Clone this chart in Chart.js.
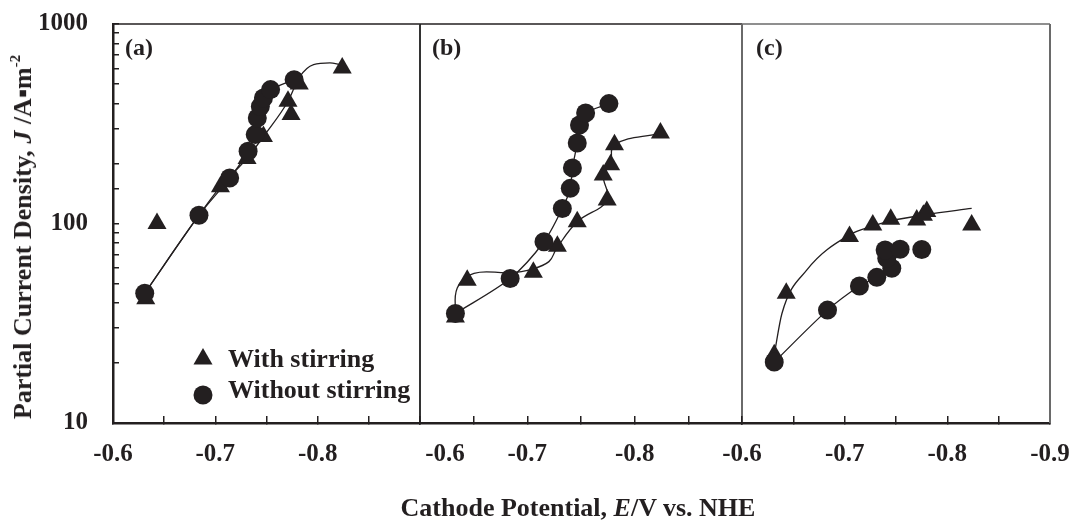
<!DOCTYPE html>
<html>
<head>
<meta charset="utf-8">
<script src="https://cdn.jsdelivr.net/npm/chart.js@4.4.0/dist/chart.umd.min.js"></script>
<style>
  body { margin: 0; background: #fff; }
  #wrap { position: relative; width: 1072px; height: 524px; font-family: "Liberation Serif", "Times New Roman", serif; font-weight: bold; color: #231f20; }
  canvas { position: absolute; left: 0; top: 0; }
  .tag { position: absolute; top: 33px; font-size: 24px; line-height: 28px; }
  #ytitle { position: absolute; left: 23px; top: 237px; transform: translate(-50%, -50%) rotate(-90deg); white-space: nowrap; font-size: 26px; }
  #xtitle { position: absolute; left: 578px; top: 508px; transform: translate(-50%, -50%); white-space: nowrap; font-size: 26px; }
  sup { font-size: 15px; vertical-align: 11px; line-height: 0; }
</style>
</head>
<body>
<div id="wrap">
  <canvas id="panelA" width="1072" height="524"></canvas>
  <canvas id="panelB" width="1072" height="524"></canvas>
  <canvas id="panelC" width="1072" height="524"></canvas>
  <div class="tag" style="left:125px">(a)</div>
  <div class="tag" style="left:432px">(b)</div>
  <div class="tag" style="left:756px">(c)</div>
  <div id="ytitle">Partial Current Density, <i>J</i> /A▪m<sup>-2</sup></div>
  <div id="xtitle">Cathode Potential, <i>E</i>/V vs. NHE</div>
</div>
<script>
// cathode potential E (V vs NHE) and partial current density J (A/m2)

// (a)
const aTriE = [-0.632, -0.643, -0.705, -0.731, -0.747, -0.771, -0.774, -0.782, -0.824];
const aTriJ = [42, 100, 153, 212, 273, 410, 352, 500, 602];
const aCirE = [-0.631, -0.684, -0.714, -0.732, -0.739, -0.741, -0.744, -0.747, -0.754, -0.777];
const aCirJ = [44.7, 110, 169, 230, 279, 338, 386, 426, 469, 526];
// fitted curves drawn through the points
const aFitTriE = [-0.631, -0.684, -0.705, -0.731, -0.747, -0.771, -0.782, -0.796, -0.812, -0.822];
const aFitTriJ = [44.7, 110, 153, 212, 273, 410, 540, 626, 638, 626];
const aFitCirE = [-0.631, -0.684, -0.714, -0.732, -0.741, -0.747, -0.754, -0.777];
const aFitCirJ = [44.7, 110, 169, 230, 320, 426, 469, 526];

// (b)
const bTriE = [-0.633, -0.644, -0.7056, -0.728, -0.7465, -0.7744, -0.7707, -0.7776, -0.7812, -0.824];
const bTriJ = [34, 52, 57, 77, 102, 131, 175, 197, 248, 284];
const bCirE = [-0.633, -0.684, -0.7155, -0.7326, -0.740, -0.742, -0.7465, -0.7486, -0.7543, -0.776];
const bCirJ = [35.4, 53, 81, 119, 150, 190, 253, 312, 358, 399];
const bFitTriE = [-0.633, -0.6347, -0.6503, -0.684, -0.7031, -0.7201, -0.7273, -0.7465, -0.7744, -0.7707, -0.7776, -0.7812, -0.824];
const bFitTriJ = [34, 47.5, 56.3, 56.7, 58.8, 64.4, 75, 102, 131, 175, 197, 248, 284];
const bFitCirE = bCirE;
const bFitCirJ = bCirJ;

// (c)
const cTriE = [-0.6314, -0.6431, -0.7047, -0.7274, -0.7449, -0.7702, -0.7767, -0.780, -0.8237];
const cTriJ = [22, 44.7, 86, 98.4, 105, 104, 110, 115, 98.4];
const cCirE = [-0.6314, -0.6833, -0.7144, -0.7313, -0.7459, -0.741, -0.7394, -0.754, -0.7751];
const cCirJ = [20.2, 36.8, 48.6, 53.7, 59.6, 67, 73.7, 74.3, 74];
const cFitTriE = [-0.6314, -0.6389, -0.6632, -0.7047, -0.7274, -0.7449, -0.780, -0.8237];
const cFitTriJ = [22, 35.4, 58.5, 87.6, 97, 103, 111, 119];
const cFitCirE = [-0.6314, -0.6833, -0.7144, -0.7313, -0.7459];
const cFitCirJ = [20.2, 36.8, 48.6, 53.7, 59.6];

const yMajor = [10, 100, 1000];

const INK = '#231f20';
const GREY = '#6a6a6a';
const FONT = '"Liberation Serif", "Times New Roman", serif';

function pts(xs, ys) {
    return xs.map((x, i) => ({ x: x, y: ys[i] }));
}

// tick label helper, E values are negative
function xLabel(showLast, leadPad) {
    return function(v) {
        const k = Math.round(-v * 100);
        if (k % 10 !== 0) return '';
        if (k === 90 && !showLast) return '';
        let s = '-' + (k / 100).toFixed(1);
        if (k === 60 && leadPad) s = leadPad + s;
        return s;
    };
}

// top and right edge of each panel
const frame = {
    id: 'frame',
    afterDraw(chart, args, opts) {
        const { ctx, chartArea: a } = chart;
        ctx.save();
        ctx.lineWidth = 1.5;
        ctx.strokeStyle = opts.top;
        ctx.beginPath();
        ctx.moveTo(a.left, a.top);
        ctx.lineTo(a.right, a.top);
        ctx.stroke();
        ctx.strokeStyle = opts.right;
        ctx.lineWidth = 2;
        ctx.beginPath();
        ctx.moveTo(a.right, a.top);
        ctx.lineTo(a.right, a.bottom);
        ctx.stroke();
        ctx.restore();
    }
};

// legend inside panel (a)
const legendBox = {
    id: 'legendBox',
    afterDraw(chart) {
        const ctx = chart.ctx;
        ctx.save();
        ctx.fillStyle = INK;
        ctx.strokeStyle = INK;
        Chart.helpers.drawPoint(ctx, { pointStyle: 'triangle', radius: 11, borderWidth: 0 }, 203, 359);
        Chart.helpers.drawPoint(ctx, { pointStyle: 'circle', radius: 9.5, borderWidth: 0 }, 203, 395);
        ctx.font = 'bold 26px ' + FONT;
        ctx.textBaseline = 'alphabetic';
        ctx.fillText('With stirring', 228, 367);
        ctx.fillText('Without stirring', 228, 398);
        ctx.restore();
    }
};

function panelChart(id, p) {
    const ctx = document.getElementById(id).getContext('2d');
    const tickFont = { family: FONT, size: 25, weight: 'bold' };
    return new Chart(ctx, {
        type: 'scatter',
        data: {
            datasets: [
                {
                    label: 'Without stirring',
                    data: pts(p.cirE, p.cirJ),
                    pointStyle: 'circle',
                    pointRadius: 9.5,
                    backgroundColor: INK,
                    borderColor: INK,
                    borderWidth: 0,
                    order: 0
                },
                {
                    label: 'With stirring',
                    data: pts(p.triE, p.triJ),
                    pointStyle: 'triangle',
                    pointRadius: 11,
                    backgroundColor: INK,
                    borderColor: INK,
                    borderWidth: 0,
                    order: 1
                },
                {
                    data: pts(p.fitCirE, p.fitCirJ),
                    showLine: true,
                    pointRadius: 0,
                    borderColor: INK,
                    borderWidth: 1.3,
                    tension: 0.3,
                    order: 2
                },
                {
                    data: pts(p.fitTriE, p.fitTriJ),
                    showLine: true,
                    pointRadius: 0,
                    borderColor: INK,
                    borderWidth: 1.3,
                    tension: 0.4,
                    cubicInterpolationMode: p.triMode,
                    order: 2
                }
            ]
        },
        plugins: p.plugins,
        options: {
            responsive: false,
            animation: false,
            events: [],
            layout: { padding: p.pad },
            plugins: {
                legend: { display: false },
                tooltip: { enabled: false },
                frame: p.frame
            },
            scales: {
                x: {
                    type: 'linear',
                    min: -0.9,
                    max: -0.6,
                    reverse: true,
                    border: { display: true, color: INK, width: 2.5 },
                    grid: { drawOnChartArea: false, drawTicks: true, tickLength: -7, color: INK, lineWidth: 1.5 },
                    ticks: {
                        stepSize: 0.05,
                        autoSkip: false,
                        maxRotation: 0,
                        padding: 24,
                        color: INK,
                        font: tickFont,
                        callback: p.xLabel
                    },
                    afterFit: s => {
                        s.height = 60;
                        s.paddingLeft = 0;
                        s.paddingRight = 0;
                    }
                },
                y: {
                    type: 'logarithmic',
                    min: 10,
                    max: 1000,
                    display: p.showY,
                    border: { display: true, color: INK, width: 2.5 },
                    grid: { drawOnChartArea: false, drawTicks: true, tickLength: -6, color: INK, lineWidth: 1.5 },
                    ticks: {
                        autoSkip: false,
                        padding: 31,
                        color: INK,
                        font: tickFont,
                        callback: v => yMajor.includes(v) ? String(v) : ''
                    },
                    afterFit: s => {
                        s.width = p.showY ? 113 : 0;
                        s.paddingTop = 0;
                        s.paddingBottom = 0;
                    }
                }
            }
        }
    });
}

panelChart('panelA', {
    triE: aTriE, triJ: aTriJ, cirE: aCirE, cirJ: aCirJ,
    fitTriE: aFitTriE, fitTriJ: aFitTriJ, fitCirE: aFitCirE, fitCirJ: aFitCirJ,
    pad: { left: 0, top: 24, right: 652, bottom: 41 },
    showY: true,
    triMode: 'monotone',
    xLabel: xLabel(false, ''),
    frame: { top: INK, right: '#333' },
    plugins: [frame, legendBox]
});

panelChart('panelB', {
    triE: bTriE, triJ: bTriJ, cirE: bCirE, cirJ: bCirJ,
    fitTriE: bFitTriE, fitTriJ: bFitTriJ, fitCirE: bFitCirE, fitCirJ: bFitCirJ,
    pad: { left: 420, top: 24, right: 330, bottom: 41 },
    showY: false,
    triMode: 'default',
    xLabel: xLabel(false, '        '),
    frame: { top: INK, right: GREY },
    plugins: [frame]
});

panelChart('panelC', {
    triE: cTriE, triJ: cTriJ, cirE: cCirE, cirJ: cCirJ,
    fitTriE: cFitTriE, fitTriJ: cFitTriJ, fitCirE: cFitCirE, fitCirJ: cFitCirJ,
    pad: { left: 742, top: 24, right: 22, bottom: 41 },
    showY: false,
    triMode: 'monotone',
    xLabel: xLabel(true, ''),
    frame: { top: GREY, right: GREY },
    plugins: [frame]
});
</script>
</body>
</html>
